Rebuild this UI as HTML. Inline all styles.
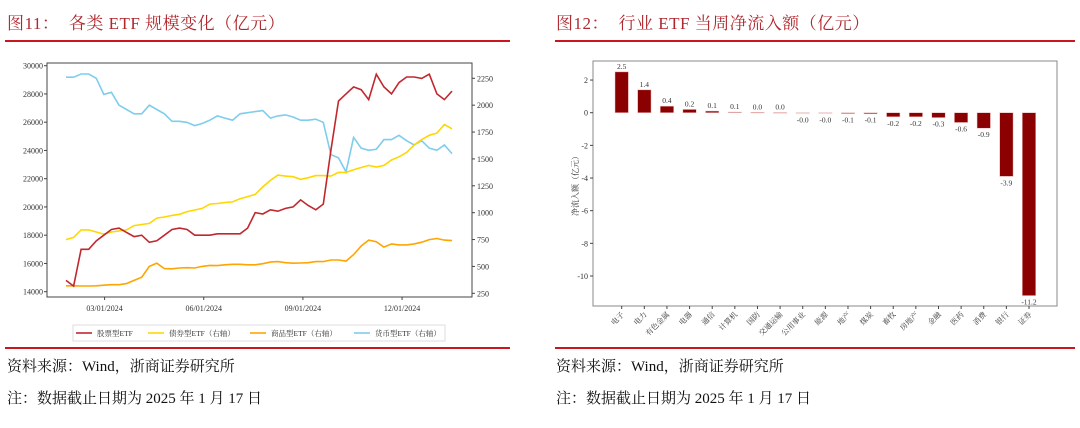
<!DOCTYPE html>
<html><head><meta charset="utf-8">
<style>
body{margin:0;width:1080px;height:428px;background:#fff;position:relative;overflow:hidden;font-family:"Liberation Serif","Noto Serif CJK SC",serif;}
.t{position:absolute;font-size:17px;color:#b0282e;top:9px;letter-spacing:0.5px}
.rl{position:absolute;height:2px;background:#c8171e}
.f{position:absolute;font-size:15px;color:#111}
svg{position:absolute;left:0;top:0}
</style></head><body>
<div class="t" style="left:7px">图11：&nbsp; 各类 ETF 规模变化（亿元）</div>
<div class="t" style="left:556px">图12：&nbsp; 行业 ETF 当周净流入额（亿元）</div>
<div class="rl" style="left:5px;width:505px;top:40px"></div>
<div class="rl" style="left:555px;width:520px;top:40px"></div>
<div class="rl" style="left:5px;width:505px;top:347px"></div>
<div class="rl" style="left:555px;width:520px;top:347px"></div>
<div class="f" style="left:7px;top:355px">资料来源：Wind，浙商证券研究所</div>
<div class="f" style="left:7px;top:387px">注：数据截止日期为 2025 年 1 月 17 日</div>
<div class="f" style="left:556px;top:355px">资料来源：Wind，浙商证券研究所</div>
<div class="f" style="left:556px;top:387px">注：数据截止日期为 2025 年 1 月 17 日</div>
<svg id="c" width="1080" height="428"></svg>
<script>
const stock=[14800,14400,17000,17000,17600,18000,18400,18500,18200,17900,18000,17500,17600,18000,18400,18500,18400,18000,18000,18000,18100,18100,18100,18100,18500,19600,19500,19800,19700,19900,20000,20500,20100,19800,20200,24000,27500,28000,28500,28300,27600,29400,28500,28000,28800,29200,29200,29100,29400,28000,27600,28200];
const bond=[750,770,840,840,820,800,820,830,840,880,890,900,950,960,975,985,1010,1025,1040,1080,1085,1095,1100,1130,1150,1170,1240,1300,1350,1340,1335,1310,1325,1345,1345,1340,1375,1375,1400,1420,1440,1425,1440,1490,1520,1560,1630,1680,1720,1740,1820,1780];
const commodity=[320,320,318,318,320,325,330,330,340,370,400,500,530,480,478,485,488,485,500,510,508,515,520,520,515,515,525,540,545,535,530,532,535,545,545,560,560,550,610,690,745,730,680,710,700,700,710,725,750,760,745,740];
const money=[2260,2260,2290,2290,2250,2100,2120,2000,1960,1920,1920,2000,1960,1920,1850,1850,1840,1810,1830,1860,1900,1880,1860,1920,1930,1940,1950,1880,1900,1910,1890,1860,1860,1870,1840,1540,1510,1380,1700,1600,1580,1590,1680,1680,1720,1670,1630,1670,1600,1580,1630,1550];
const leftTicks=[14000,16000,18000,20000,22000,24000,26000,28000,30000];
const rightTicks=[250,500,750,1000,1250,1500,1750,2000,2250];
const dateTicks=["03/01/2024","06/01/2024","09/01/2024","12/01/2024"];
const dateTickIdx=[5.1,18.2,31.3,44.4];
const inds=["电子","电力","有色金属","电器","通信","计算机","国防","交通运输","公用事业","能源","地产","煤炭","畜牧","房地产","金融","医药","消费","银行","证券"];
const flows=[2.5,1.4,0.4,0.2,0.1,0.04,0.02,0.01,-0.01,-0.03,-0.05,-0.06,-0.25,-0.25,-0.3,-0.6,-0.95,-3.9,-11.2];
const flowLabels=["2.5","1.4","0.4","0.2","0.1","0.1","0.0","0.0","-0.0","-0.0","-0.1","-0.1","-0.2","-0.2","-0.3","-0.6","-0.9","-3.9","-11.2"];
const yTicks2=[2,0,-2,-4,-6,-8,-10];

const S=document.getElementById('c');const NS='http://www.w3.org/2000/svg';
function el(t,a,p){const e=document.createElementNS(NS,t);for(const k in a)e.setAttribute(k,a[k]);(p||S).appendChild(e);return e;}
function tx(x,y,s,a){const e=el('text',Object.assign({x:x,y:y,'font-size':8,fill:'#333','font-family':'"Liberation Serif","Noto Serif CJK SC",serif'},a||{}));e.textContent=s;return e;}
// left chart
const L={x0:47,x1:472,y0:63,y1:297};
const xi=i=>66+i*(452-66)/(stock.length-1);
const yl=v=>291.7-(v-14000)*(291.7-65.7)/16000;
const yr=v=>293.3-(v-250)*(293.3-78.3)/2000;
let fr=el('rect',{x:L.x0,y:L.y0,width:L.x1-L.x0,height:L.y1-L.y0,fill:'none',stroke:'#444','stroke-width':1});

leftTicks.forEach(v=>{el('line',{x1:L.x0-3,x2:L.x0,y1:yl(v),y2:yl(v),stroke:'#444'});let t=tx(L.x0-4,yl(v)+3,v,{'text-anchor':'end'});});
rightTicks.forEach(v=>{el('line',{x1:L.x1,x2:L.x1+3,y1:yr(v),y2:yr(v),stroke:'#444'});let t=tx(L.x1+5,yr(v)+3,v);});
dateTicks.forEach((d,k)=>{const x=xi(dateTickIdx[k]);el('line',{x1:x,x2:x,y1:L.y1,y2:L.y1+3,stroke:'#444'});let t=tx(x,L.y1+14,d,{'text-anchor':'middle'});});
function line(arr,f,c,name){const p=arr.map((v,i)=>(i?'L':'M')+xi(i).toFixed(1)+','+f(v).toFixed(1)).join('');const e=el('path',{d:p,fill:'none',stroke:c,'stroke-width':1.6});}
line(money,yr,'#7fcdec','money-etf-line');
line(bond,yr,'#ffd700','bond-etf-line');
line(commodity,yr,'#ffa500','commodity-etf-line');
line(stock,yl,'#c0282e','stock-etf-line');
// legend
let lg=el('rect',{x:73,y:325,width:372,height:16,fill:'#fff',stroke:'#ddd'});
[['股票型ETF','#c0282e',76],['债券型ETF（右轴）','#ffd700',148],['商品型ETF（右轴）','#ffa500',250],['货币型ETF（右轴）','#7fcdec',354]].forEach(a=>{el('line',{x1:a[2],x2:a[2]+16,y1:333,y2:333,stroke:a[1],'stroke-width':1.6});let t=tx(a[2]+21,336,a[0],{'font-size':7.5});});
// right chart
const R={x0:593,x1:1057,y0:61,y1:306};
const y2=v=>112.7-v*16.33;
const bx=i=>621.7+i*(1029-621.7)/(inds.length-1);
let fr2=el('rect',{x:R.x0,y:R.y0,width:R.x1-R.x0,height:R.y1-R.y0,fill:'none',stroke:'#888'});

yTicks2.forEach(v=>{el('line',{x1:R.x0-3,x2:R.x0,y1:y2(v),y2:y2(v),stroke:'#444'});let t=tx(R.x0-5,y2(v)+3,v,{'text-anchor':'end'});});
let yt=tx(0,0,'净流入额（亿元）',{'font-size':8,transform:'translate(578,184) rotate(-90)','text-anchor':'middle'});
inds.forEach((n,i)=>{const v=flows[i],x=bx(i),y=Math.min(y2(v),y2(0)),h=Math.max(Math.abs(y2(v)-y2(0)),0.6);
const b=el('rect',{x:x-6.7,y:y,width:13.4,height:h,fill:'#8b0000',stroke:'#f0c0c0','stroke-width':0.5});
const lt=tx(x,v>=0?y-3:y+h+9,flowLabels[i],{'text-anchor':'middle','font-size':7.5});
el('line',{x1:x,x2:x,y1:R.y1,y2:R.y1+3,stroke:'#444'});
const ct=tx(0,0,n,{'font-size':7.5,'text-anchor':'end',transform:`translate(${x+3},${R.y1+9}) rotate(-45)`});});
</script>
</body></html>
